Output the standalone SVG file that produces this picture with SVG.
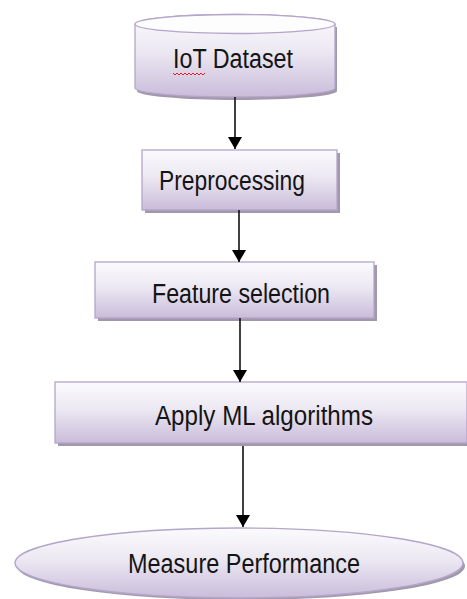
<svg xmlns="http://www.w3.org/2000/svg" width="467" height="599" viewBox="0 0 467 599">
<defs>
<linearGradient id="g" x1="0" y1="0" x2="0" y2="1">
<stop offset="0" stop-color="#fbfbfd"/>
<stop offset="0.45" stop-color="#ece8f2"/>
<stop offset="1" stop-color="#c9bcda"/>
</linearGradient>
<marker id="ah" viewBox="0 0 12 14" refX="12" refY="7" markerWidth="12" markerHeight="14" markerUnits="userSpaceOnUse" orient="auto">
<path d="M0,0 L12,7 L0,14 Z" fill="#000"/>
</marker>
<filter id="blur" x="-5%" y="-20%" width="110%" height="140%"><feGaussianBlur stdDeviation="0.7"/></filter>
</defs>
<style>
.node{fill:url(#g);stroke:#b4a5ca;stroke-width:1.3}
.shadow{fill:#978fa2;opacity:0.9;filter:url(#blur)}
.lbl{font-family:"Liberation Sans",Arial,sans-serif;font-size:27px;fill:#141414}
.conn{stroke:#111;stroke-width:1.6;fill:none;marker-end:url(#ah)}
</style>
<rect width="467" height="599" fill="#fff"/>

<g id="node-iot-dataset">
<path class="shadow" d="M137,27 L137,91 A100,9 0 0 0 337,91 L337,27 Z"/>
<path class="node" d="M135,24 L135,88 A100,9 0 0 0 335,88 L335,24 A100,9.5 0 0 0 135,24 Z"/>
<ellipse cx="235" cy="24" rx="100" ry="9.5" fill="#fdfdfe" stroke="#b4a5ca" stroke-width="1.3"/>
<text class="lbl" x="173" y="68" textLength="120" lengthAdjust="spacingAndGlyphs">IoT Dataset</text>
<path d="M173,73 l2,2 l2,-2 l2,2 l2,-2 l2,2 l2,-2 l2,2 l2,-2 l2,2 l2,-2 l2,2 l2,-2 l2,2 l2,-2 l2,2 l2,-2" fill="none" stroke="#e02020" stroke-width="1"/>
</g>

<g id="node-preprocessing">
<rect class="shadow" x="145" y="153" width="195" height="60"/>
<rect class="node" x="142" y="150" width="195" height="60"/>
<text class="lbl" x="159" y="190" textLength="146" lengthAdjust="spacingAndGlyphs">Preprocessing</text>
</g>

<g id="node-feature-selection">
<rect class="shadow" x="98" y="265" width="279" height="56"/>
<rect class="node" x="95" y="262" width="279" height="56"/>
<text class="lbl" x="152" y="303" textLength="178" lengthAdjust="spacingAndGlyphs">Feature selection</text>
</g>

<g id="node-apply-ml">
<rect class="shadow" x="58" y="385" width="412" height="61"/>
<rect class="node" x="55" y="382" width="412" height="61"/>
<text class="lbl" x="155" y="425" textLength="218" lengthAdjust="spacingAndGlyphs">Apply ML algorithms</text>
</g>

<g id="node-measure-performance">
<ellipse class="shadow" cx="241" cy="566" rx="224" ry="34"/>
<ellipse class="node" cx="239" cy="563" rx="224" ry="35"/>
<text class="lbl" x="128" y="573" textLength="232" lengthAdjust="spacingAndGlyphs">Measure Performance</text>
</g>

<g id="connectors">
<line class="conn" x1="235" y1="97" x2="235" y2="149"/>
<line class="conn" x1="239" y1="210" x2="239" y2="262"/>
<line class="conn" x1="240" y1="318" x2="240" y2="382"/>
<line class="conn" x1="243" y1="446" x2="243" y2="527"/>
</g>
</svg>
